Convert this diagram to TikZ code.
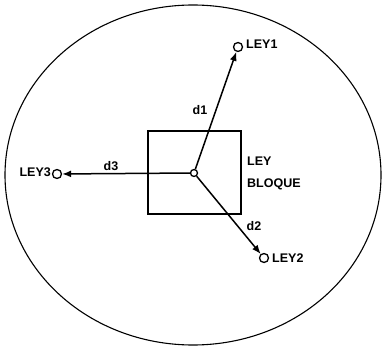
\documentclass[tikz,border=0pt]{standalone}
\usepackage{fontspec}
\setmainfont{Liberation Sans}
\usetikzlibrary{arrows.meta}
\begin{document}
\begin{tikzpicture}[x=1pt,y=-1pt,
  lbl/.style={font=\fontsize{12.5}{14}\selectfont\bfseries, inner sep=0pt},
  pt/.style={circle, draw, line width=1.3pt, minimum size=9pt, inner sep=0pt},
  conn/.style={line width=1.5pt, -{Latex[length=9pt,width=7pt]}}]
\useasboundingbox (0,0) rectangle (382,347);
\draw[line width=1.1pt] (193,175) ellipse [x radius=188, y radius=170];
\node[draw, line width=1.4pt, minimum width=93pt, minimum height=83pt, inner sep=0pt] (box) at (194.5,172.5) {};
\node[pt, minimum size=7pt] (c) at (194,173) {};
\node[pt] (p1) at (238,47) {};
\node[pt] (p2) at (264,258) {};
\node[pt] (p3) at (57,174) {};
\draw[conn] (c) -- (p1);
\draw[conn] (c) -- (p2);
\draw[conn] (c) -- (p3);
\node[lbl, anchor=west] (l1) at (246,44) {LEY1};
\node[lbl, anchor=west] (l2) at (272,258) {LEY2};
\node[lbl, anchor=east] (l3) at (51,172) {LEY3};
\node[lbl] (d1) at (200,110) {d1};
\node[lbl] (d2) at (254,226) {d2};
\node[lbl] (d3) at (111,166) {d3};
\node[lbl, anchor=west] (ley) at (247,161) {LEY};
\node[lbl, anchor=west] (bloque) at (247,184) {BLOQUE};
\end{tikzpicture}
\end{document}
